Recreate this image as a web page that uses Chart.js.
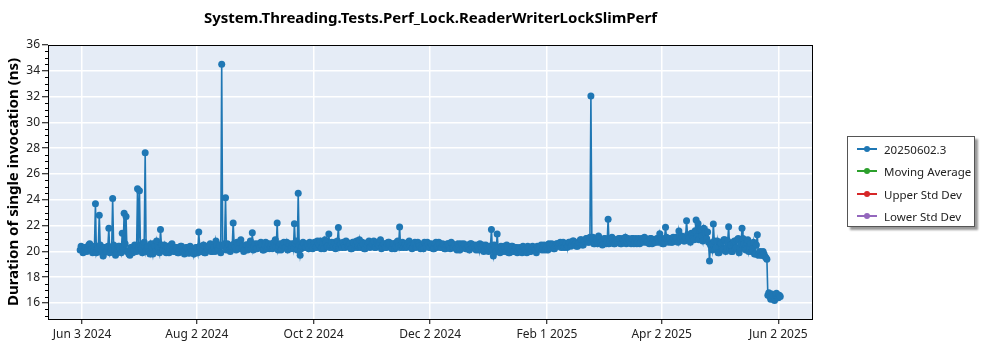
<!DOCTYPE html>
<html><head><meta charset="utf-8">
<script src="https://cdn.jsdelivr.net/npm/chart.js@4"></script>
<style>
html,body{margin:0;padding:0;background:#fff;}
#wrap{position:relative;width:1000px;height:350px;}
#legend{position:absolute;left:847px;top:136px;width:126px;height:89px;border:1px solid #555;box-shadow:3px 3px 2px #999;background:#fff;font-family:'Segoe UI','Noto Sans','Open Sans',sans-serif;font-size:11.5px;color:#222;}
.item{position:absolute;left:9px;height:16px;display:flex;align-items:center;white-space:nowrap;}
.sw{position:relative;width:20px;height:1.5px;margin-right:7px;}
.sw i{position:absolute;left:7px;top:-2.25px;width:6px;height:6px;border-radius:50%;}
</style></head>
<body><div id="wrap"><canvas id="c" width="1000" height="350"></canvas><div id="legend"></div></div>
<script>
const chartTitle = 'System.Threading.Tests.Perf_Lock.ReaderWriterLockSlimPerf';
const yTitle = 'Duration of single invocation (ns)';
const startDate = '2024-06-02';          // day 0 of the series
const xTickDates = ['2024-06-03','2024-08-02','2024-10-02','2024-12-02','2025-02-01','2025-04-02','2025-06-02'];
const yTicks = [16,18,20,22,24,26,28,30,32,34,36];
const seriesLabels = ['20250602.3','Moving Average','Upper Std Dev','Lower Std Dev'];
const seriesColors = ['#1f77b4','#2ca02c','#d62728','#9467bd'];
// morning run, one per day, starting at startDate
const durations = [
20.1,20.2,20.05,20.3,20.15,20.6,20.2,20.0,23.7,20.2,
22.8,20.1,19.65,20.3,20.0,21.8,20.2,24.1,20.1,19.9,
20.4,20.2,21.4,22.95,22.7,20.0,19.7,20.3,20.1,20.45,
24.85,24.7,20.2,20.5,27.65,20.3,20.0,20.6,19.8,20.4,
20.8,20.3,21.7,20.1,20.5,19.9,20.3,20.2,20.6,20.0,
20.3,19.9,20.2,20.4,20.0,20.1,20.3,19.85,20.2,20.0,
20.1,20.3,21.5,20.0,20.2,19.9,20.4,20.1,20.6,20.0,
20.3,20.8,20.2,20.5,34.5,20.4,24.15,20.6,20.1,20.4,
22.2,20.3,20.7,20.2,20.9,20.4,20.1,20.5,20.3,20.8,
21.45,20.4,20.2,20.6,20.3,20.5,20.1,20.7,20.4,20.2,
20.6,20.3,20.9,22.2,20.4,20.1,20.5,20.3,20.7,20.4,
20.2,20.6,22.15,20.8,24.5,19.7,20.4,20.6,20.3,20.5,
20.7,20.4,20.6,20.3,20.8,20.5,20.2,20.6,20.9,20.4,
21.35,20.5,20.3,20.7,20.4,21.85,20.6,20.3,20.5,20.8,
20.4,20.6,20.2,20.7,20.5,20.3,20.9,20.4,20.6,20.2,
20.5,20.8,20.4,20.6,20.3,20.7,20.5,20.9,20.4,20.6,
20.3,20.7,20.5,20.2,20.6,20.4,20.8,21.9,20.5,20.3,
20.6,20.4,20.8,20.5,20.3,20.7,20.4,20.6,20.2,20.5,
20.7,20.4,20.6,20.3,20.5,20.2,20.7,20.4,20.6,20.3,
20.5,20.2,20.6,20.4,20.7,20.3,20.5,20.1,20.4,20.6,
20.3,20.5,20.2,20.4,20.6,20.3,20.5,20.1,20.4,20.6,
20.3,20.0,20.5,20.2,20.4,21.7,19.65,20.3,21.35,20.1,
20.4,20.0,20.3,20.5,19.9,20.2,20.4,20.0,20.3,20.1,
20.2,19.9,20.3,20.1,20.4,20.0,20.2,20.3,20.1,20.4,
20.2,20.5,20.3,20.1,20.4,20.6,20.3,20.5,20.2,20.6,
20.4,20.7,20.5,20.3,20.6,20.4,20.7,20.5,20.8,20.6,
20.4,20.7,20.9,20.5,20.8,21.0,20.7,32.05,21.1,20.6,
20.9,21.2,20.7,20.5,21.0,20.6,22.5,20.8,21.1,20.6,
20.9,20.7,21.0,20.6,20.8,21.1,20.7,20.9,20.6,21.0,
20.8,20.6,21.0,20.7,20.9,21.1,20.7,20.8,21.0,20.6,
20.9,20.7,21.0,21.37,20.8,20.6,21.87,20.9,21.0,20.7,
21.1,20.8,21.0,21.58,20.9,21.1,20.8,22.38,21.0,20.7,
21.3,20.9,22.43,22.17,21.6,21.2,21.8,21.4,21.5,19.26,
20.5,22.12,20.2,20.8,19.9,20.6,20.1,20.9,20.3,21.92,
20.5,20.0,20.8,20.3,21.0,20.2,21.79,20.6,20.1,20.9,
20.4,20.0,20.7,19.8,21.3,19.9,19.7,20.0,19.6,19.4,
16.8,16.3,16.6,16.2,16.75,16.4,16.5
];
// evening run, one per day, half a day after each morning run
const durationsEvening = [
20.4,19.9,20.3,20.0,20.5,20.1,19.9,20.4,19.9,20.3,
20.5,19.9,20.3,20.0,20.4,19.9,20.3,20.5,19.7,20.2,
20.4,19.9,20.3,20.6,20.0,19.8,20.3,19.9,20.5,20.0,
20.3,20.5,19.9,20.7,20.0,20.4,19.8,20.3,20.6,20.0,
20.4,19.9,20.5,20.1,20.0,20.4,19.9,20.5,20.1,20.0,
20.3,19.9,20.4,20.0,19.8,20.3,19.9,20.4,20.0,19.8,
20.3,19.9,20.4,20.0,20.5,19.9,20.3,20.4,20.0,20.5,
20.0,20.5,20.1,19.9,20.4,20.6,20.1,20.5,20.0,20.4,
20.6,20.1,20.5,20.7,20.2,20.0,20.5,20.1,20.6,20.2,
20.1,20.6,20.2,20.5,20.7,20.1,20.5,20.2,20.6,20.3,
20.2,20.7,20.3,20.1,20.6,20.2,20.7,20.3,20.1,20.6,
20.3,20.2,20.6,20.1,20.5,20.2,20.7,20.3,20.6,20.2,
20.6,20.2,20.7,20.3,20.6,20.8,20.3,20.2,20.7,20.4,
20.3,20.7,20.4,20.2,20.8,20.3,20.6,20.7,20.3,20.7,
20.4,20.2,20.7,20.3,20.8,20.4,20.3,20.7,20.2,20.6,
20.7,20.3,20.6,20.8,20.3,20.6,20.7,20.2,20.6,20.3,
20.6,20.7,20.3,20.6,20.2,20.7,20.4,20.3,20.7,20.4,
20.3,20.7,20.4,20.2,20.6,20.3,20.7,20.4,20.3,20.2,
20.6,20.7,20.3,20.6,20.2,20.6,20.3,20.7,20.3,20.6,
20.2,20.5,20.6,20.2,20.6,20.3,20.2,20.6,20.1,20.5,
20.6,20.2,20.5,20.1,20.6,20.3,20.2,20.5,20.1,20.4,
20.5,20.1,20.4,20.0,20.4,20.1,20.5,20.0,20.3,19.9,
20.3,20.4,20.0,20.3,19.9,20.4,20.0,20.3,19.9,20.3,
20.0,20.4,20.1,19.9,20.3,20.0,20.4,20.1,19.9,20.3,
20.4,20.1,20.5,20.2,20.1,20.5,20.6,20.2,20.5,20.6,
20.6,20.3,20.7,20.4,20.3,20.7,20.4,20.8,20.5,20.4,
20.7,20.9,20.5,20.8,21.0,20.7,21.1,21.0,20.6,20.9,
20.6,21.0,20.7,20.6,21.0,20.7,20.6,21.0,20.7,20.6,
20.9,21.0,20.6,21.0,20.7,20.6,21.0,20.7,21.0,20.6,
21.0,20.7,20.6,21.0,20.7,21.0,20.7,20.6,21.0,20.7,
20.7,21.0,20.7,21.0,20.6,21.0,21.1,20.7,21.0,20.7,
21.0,21.1,20.7,21.1,21.2,20.8,21.1,21.3,21.0,21.4,
21.0,21.6,21.1,20.9,21.7,20.8,21.5,21.0,20.7,20.5,
20.1,20.8,20.3,19.9,20.7,20.2,20.9,20.0,20.8,20.3,
20.0,20.7,20.2,20.9,19.9,20.6,21.0,20.2,20.7,20.0,
20.6,20.2,19.8,20.5,19.7,20.0,19.7,19.8,19.5,16.6,
16.5,16.7,16.3,16.6,16.4,16.6
];

const FONT = "'Segoe UI','Noto Sans','Open Sans',sans-serif";
const MONTHS = ['Jan','Feb','Mar','Apr','May','Jun','Jul','Aug','Sep','Oct','Nov','Dec'];
const DAY = 86400000;
const t0 = Date.parse(startDate + 'T00:00:00Z');
const toDay = s => Math.round((Date.parse(s + 'T00:00:00Z') - t0) / DAY);
const fmtDay = v => { const d = new Date(t0 + Math.round(v) * DAY); return MONTHS[d.getUTCMonth()] + ' ' + d.getUTCDate() + ' ' + d.getUTCFullYear(); };
const xTickDays = xTickDates.map(toDay);

const mainData = [];
durations.forEach((v, i) => {
  mainData.push({x: i, y: v});
  if (i < durationsEvening.length) mainData.push({x: i + 0.5, y: durationsEvening[i]});
});

const frame = {
  id: 'frame',
  beforeDraw(chart) {
    const a = chart.chartArea, ctx = chart.ctx;
    ctx.save(); ctx.fillStyle = '#e5ecf6';
    ctx.fillRect(a.left, a.top, a.right - a.left, a.bottom - a.top);
    ctx.restore();
  },
  afterDraw(chart) {
    const a = chart.chartArea, ctx = chart.ctx, ys = chart.scales.y;
    ctx.save();
    ctx.strokeStyle = '#000'; ctx.lineWidth = 1;
    ctx.strokeRect(Math.round(a.left) + 0.5, Math.round(a.top) + 0.5, Math.round(a.right - a.left) - 1, Math.round(a.bottom - a.top));
    ctx.beginPath();
    for (let v = Math.ceil(ys.min * 2) / 2; v <= ys.max; v += 0.5) {
      if (yTicks.includes(v)) continue;
      const p = Math.round(ys.getPixelForValue(v)) + 0.5;
      ctx.moveTo(a.left - 3, p); ctx.lineTo(a.left, p);
    }
    ctx.stroke();
    ctx.restore();
  }
};

new Chart(document.getElementById('c'), {
  type: 'line',
  data: {
    datasets: seriesLabels.map((lab, k) => ({
      label: lab,
      data: k === 0 ? mainData : [],
      borderColor: seriesColors[k],
      backgroundColor: seriesColors[k],
      pointBackgroundColor: seriesColors[k],
      borderWidth: 1.6,
      pointRadius: 3.5,
      pointBorderWidth: 0,
      tension: 0
    }))
  },
  options: {
    responsive: false, animation: false, devicePixelRatio: 1,
    layout: {padding: {left: 0, right: 187, top: 0, bottom: 0}},
    plugins: {
      legend: {display: false},
      tooltip: {enabled: false},
      title: {display: true, text: chartTitle, fullSize: false, color: '#000',
        font: {family: FONT, size: 15, weight: 'bold', lineHeight: 1.2}, padding: {top: 10, bottom: 17}}
    },
    scales: {
      x: {
        type: 'linear', min: -16.8, max: 383.1,
        afterBuildTicks: s => { s.ticks = xTickDays.map(v => ({value: v})); },
        afterFit: s => { s.height = 31; },
        ticks: {callback: v => fmtDay(v), autoSkip: false, maxRotation: 0, color: '#222', padding: 3, font: {family: FONT, size: 12}},
        grid: {color: '#fff', lineWidth: 1.5, tickLength: 5, tickColor: '#000', tickWidth: 1},
        border: {display: false}
      },
      y: {
        min: 14.76, max: 36,
        afterBuildTicks: s => { s.ticks = yTicks.map(v => ({value: v})); },
        afterFit: s => { s.width = 48; },
        ticks: {color: '#222', padding: 2, font: {family: FONT, size: 12}},
        grid: {color: '#fff', lineWidth: 1.5, tickLength: 6, tickColor: '#000', tickWidth: 1},
        border: {display: false},
        title: {display: true, text: yTitle, color: '#000', font: {family: FONT, size: 15, weight: 'bold', lineHeight: 1.2}, padding: {top: 5, bottom: 0}}
      }
    }
  },
  plugins: [frame]
});

const lg = document.getElementById('legend');
const centers = [12, 34, 57, 79];
seriesLabels.forEach((lab, k) => {
  const d = document.createElement('div');
  d.className = 'item'; d.style.top = (centers[k] - 8) + 'px';
  d.innerHTML = '<span class="sw" style="background:' + seriesColors[k] + '"><i style="background:' + seriesColors[k] + '"></i></span><span></span>';
  d.lastChild.textContent = lab;
  lg.appendChild(d);
});
</script>
</body></html>
